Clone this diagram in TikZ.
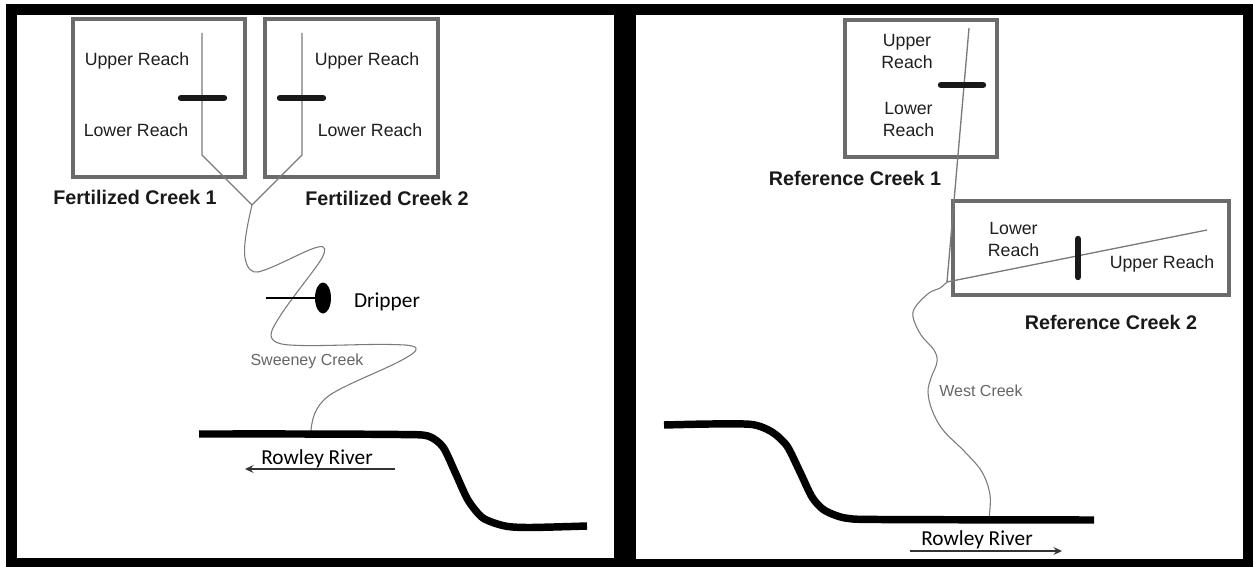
\documentclass[tikz,border=0pt]{standalone}
\usepackage{fontspec}
\setmainfont{Liberation Sans}
\newfontfamily\calib{Carlito}
\usetikzlibrary{arrows.meta,shapes.geometric}
\definecolor{boxgray}{gray}{0.42}
\definecolor{creekgray}{gray}{0.48}
\definecolor{lblgray}{gray}{0.12}
\tikzset{
  panel/.style={fill=white,draw=none},
  plotbox/.style={draw=boxgray,line width=2.4pt,fill=white,inner sep=0pt,outer sep=0pt,anchor=north west},
  reachlbl/.style={font=\fontsize{13.3pt}{16.5pt}\selectfont,text=lblgray,align=center,inner sep=0pt},
  creeklbl/.style={font=\fontsize{14.8pt}{17pt}\selectfont\bfseries,text=black!90,inner sep=0pt},
  creekname/.style={font=\fontsize{12pt}{14pt}\selectfont,text=black!60,inner sep=0pt},
  riverlbl/.style={font=\calib\fontsize{16pt}{18pt}\selectfont,text=black,inner sep=0pt},
  creekline/.style={draw=creekgray,line width=1pt,line join=round},
  reachbar/.style={draw=black!90,line width=4.8pt,line cap=round},
  river/.style={draw=black,line width=5.6pt,line join=round},
  flowarrow/.style={draw=black!80,line width=1pt,-{Stealth[length=6.5pt,width=6pt,inset=2.5pt]}},
  dripperhead/.style={ellipse,fill=black,draw=none,inner sep=0pt,minimum width=12pt,minimum height=23.25pt}
}
\begin{document}
\begin{tikzpicture}[x=0.75pt,y=-0.75pt]
\useasboundingbox (0,0) rectangle (1253,567);
\fill[white] (0,0) rectangle (1253,567);
\fill[black] (6,4) rectangle (1253,567);
\fill[panel] (16.5,15.5) rectangle (613.5,558);
\fill[panel] (635.5,15.5) rectangle (1242.5,559);

% ---------- left panel ----------
\node[plotbox,minimum width=129pt,minimum height=118.5pt] (box1) at (73,19) {};
\node[plotbox,minimum width=129.75pt,minimum height=118.5pt] (box2) at (265,19) {};
\coordinate (junction) at (252,205);
\coordinate (t1a) at (202,33); \coordinate (t1b) at (202,155);
\coordinate (t2a) at (302,33); \coordinate (t2b) at (302,155);
\draw[creekline] (t1a) -- (t1b) -- (junction);
\draw[creekline] (t2a) -- (t2b) -- (junction);
\coordinate (b1a) at (181,98); \coordinate (b1b) at (224,98);
\coordinate (b2a) at (280,98); \coordinate (b2b) at (323,98);
\draw[reachbar] (b1a) -- (b1b);
\draw[reachbar] (b2a) -- (b2b);
\node[reachlbl] (u1) at (137,60.5) {Upper Reach};
\node[reachlbl] (l1) at (136,130) {Lower Reach};
\node[reachlbl] (u2) at (367,60.5) {Upper Reach};
\node[reachlbl] (l2) at (370,130) {Lower Reach};
\node[creeklbl] (fc1) at (135,197) {Fertilized Creek 1};
\node[creeklbl] (fc2) at (387,198) {Fertilized Creek 2};
\coordinate (riverL) at (311,431);
\draw[creekline,line width=0.8pt] (junction)
  .. controls (248,222) and (243,245) .. (245,258)
  .. controls (247,269) and (252,273) .. (258,272)
  .. controls (275,268) and (305,250) .. (318,247)
  .. controls (326,245) and (326,250) .. (322,258)
  .. controls (314,272) and (285,305) .. (273,328)
  .. controls (268,338) and (272,344) .. (290,345)
  .. controls (320,347) and (370,343) .. (405,345)
  .. controls (418,346) and (419,349) .. (412,354)
  .. controls (395,366) and (355,380) .. (333,393)
  .. controls (318,402) and (312,415) .. (riverL);
\coordinate (dripS) at (266,298);
\node[dripperhead] (dripper) at (323,298) {};
\draw[black,line width=1.2pt] (dripS) -- (dripper);
\node[riverlbl] (drip) at (387,302) {Dripper};
\node[creekname] (sw) at (307,361) {Sweeney Creek};
\draw[river] plot[smooth,tension=0.45] coordinates {(199,434) (300,434) (400,434.5) (428,436) (443,447) (455,472) (468,500) (483,518) (505,526) (530,527.5) (587,526)};
\node[riverlbl] (rr1) at (317,458.5) {Rowley River};
\coordinate (a1s) at (395,469); \coordinate (a1e) at (245,469);
\draw[flowarrow] (a1s) -- (a1e);

% ---------- right panel ----------
\node[plotbox,minimum width=114pt,minimum height=102.75pt] (box3) at (845,20) {};
\node[plotbox,minimum width=207pt,minimum height=70.5pt] (box4) at (953,201) {};
\coordinate (conf) at (947,282);
\coordinate (t3a) at (969,28);
\coordinate (t4a) at (1207,230);
\draw[creekline] (t3a) -- (conf);
\draw[creekline] (t4a) -- (conf);
\coordinate (b3a) at (941,85); \coordinate (b3b) at (983,85);
\coordinate (b4a) at (1078,239); \coordinate (b4b) at (1078,277);
\draw[reachbar] (b3a) -- (b3b);
\draw[reachbar] (b4a) -- (b4b);
\node[reachlbl] (u3) at (907,51) {Upper\\Reach};
\node[reachlbl] (l3) at (908.5,119) {Lower\\Reach};
\node[reachlbl] (l4) at (1013.5,239) {Lower\\Reach};
\node[reachlbl] (u4) at (1162,264) {Upper Reach};
\node[creeklbl] (rc1) at (855,178) {Reference Creek 1};
\node[creeklbl] (rc2) at (1111,322) {Reference Creek 2};
\coordinate (riverR) at (989,518);
\draw[creekline,line width=0.8pt] plot[smooth,tension=0.6] coordinates {(conf) (940,288) (929,293) (916,306) (913,317) (921,335) (934,350) (937,362) (931,378) (928,392) (932,410) (943,430) (965,452) (982,472) (990,495) (riverR)};
\node[creekname] (wc) at (981,391) {West Creek};
\draw[river] plot[smooth,tension=0.45] coordinates {(664,425) (710,424) (752,424.5) (772,432) (787,446) (800,472) (812,497) (824,510) (845,518) (880,519.5) (1094,520)};
\node[riverlbl] (rr2) at (977,539.5) {Rowley River};
\coordinate (a2s) at (910,551); \coordinate (a2e) at (1062,551);
\draw[flowarrow] (a2s) -- (a2e);
\end{tikzpicture}
\end{document}
